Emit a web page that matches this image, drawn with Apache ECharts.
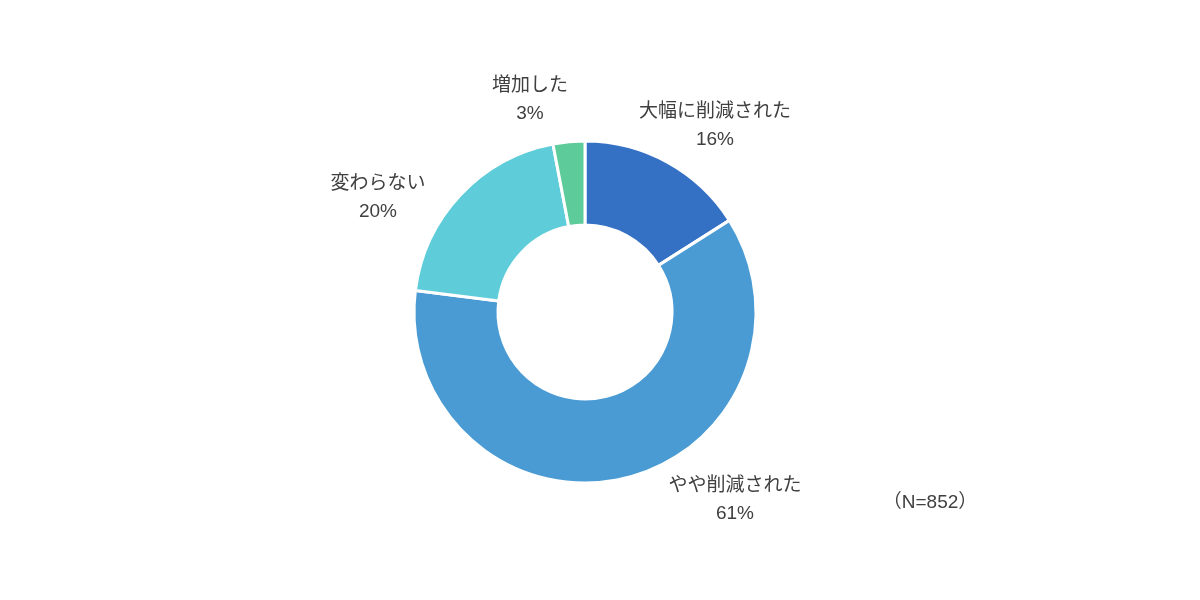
<!DOCTYPE html>
<html><head><meta charset="utf-8">
<script src="https://cdn.jsdelivr.net/npm/echarts@6/dist/echarts.min.js"></script>
<style>html,body{margin:0;background:#fff}#c{width:1200px;height:600px}</style>
</head><body><div id="c"></div>
<script>
var categories = ['大幅に削減された', 'やや削減された', '変わらない', '増加した'];
var values = [16, 61, 20, 3];
var colors = ['#3470c4', '#4a9bd4', '#5fcdd9', '#5ecb9b'];
// label centres
var labelPos = [[715, 126], [735, 500], [378, 198], [530, 100]];

var font = '"Liberation Sans", "Noto Sans CJK JP", sans-serif';
var myChart = echarts.init(document.getElementById('c'));
var option = {
  animation: false,
  graphic: [{
    type: 'text', x: 930, y: 503,
    style: { text: '（N=852）', fontSize: 19, fill: '#404040', fontFamily: font, align: 'center', verticalAlign: 'middle' }
  }],
  series: [{
    type: 'pie',
    center: [585, 312],
    radius: [87, 171],
    startAngle: 90,
    clockwise: true,
    itemStyle: { borderColor: '#fff', borderWidth: 3 },
    label: {
      show: true,
      position: 'outside',
      formatter: '{b}\n{c}%',
      fontSize: 19,
      lineHeight: 28,
      color: '#404040',
      fontFamily: font
    },
    labelLine: { show: false },
    labelLayout: function (p) {
      var q = labelPos[p.dataIndex];
      return { x: q[0], y: q[1], align: 'center', verticalAlign: 'middle' };
    },
    data: categories.map(function (c, i) {
      return { name: c, value: values[i], itemStyle: { color: colors[i] } };
    })
  }]
};
myChart.setOption(option);
</script></body></html>
